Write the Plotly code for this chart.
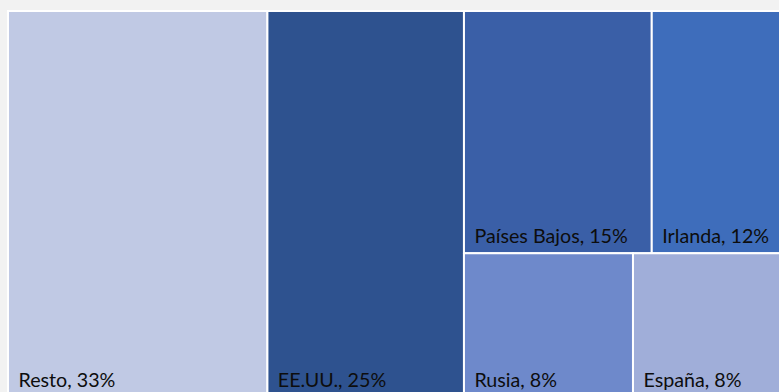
import plotly.graph_objects as go

# Share of total by destination (%)
countries = ["Resto", "EE.UU.", "Países Bajos", "Irlanda", "Rusia", "España"]
shares = [33, 25, 15, 12, 8, 8]
colors = ["#c0c9e4", "#2e528f", "#3a5fa7", "#3e6dbb", "#6e89cb", "#a0aed9"]

# Leading/trailing non-breaking spaces in larger spans give the labels
# a little breathing room from the tile edges.
lead = "<span style='font-size:29px'>\u00a0</span>"
trail = "<span style='font-size:34px'>\u00a0</span>"

fig = go.Figure(
    go.Treemap(
        labels=countries,
        parents=[""] * len(countries),
        values=shares,
        sort=True,
        texttemplate=lead + "%{label}, %{value}%" + trail,
        textposition="bottom left",
        textfont=dict(family="Lato", size=19.7, color="#0d0d0d"),
        marker=dict(
            colors=colors,
            line=dict(color="white", width=2),
            pad=dict(t=0, l=0, r=0, b=0),
        ),
        tiling=dict(packing="squarify", pad=0),
        pathbar=dict(visible=False),
        hoverinfo="skip",
    )
)

fig.update_layout(
    width=802,
    height=397,
    margin=dict(l=8, t=11, r=0, b=0),
    paper_bgcolor="#f2f2f2",
    plot_bgcolor="#f2f2f2",
)

fig.write_html(
    "out.html",
    post_script="document.documentElement.style.overflow='hidden';document.body.style.overflow='hidden';document.body.style.margin='0';",
)
